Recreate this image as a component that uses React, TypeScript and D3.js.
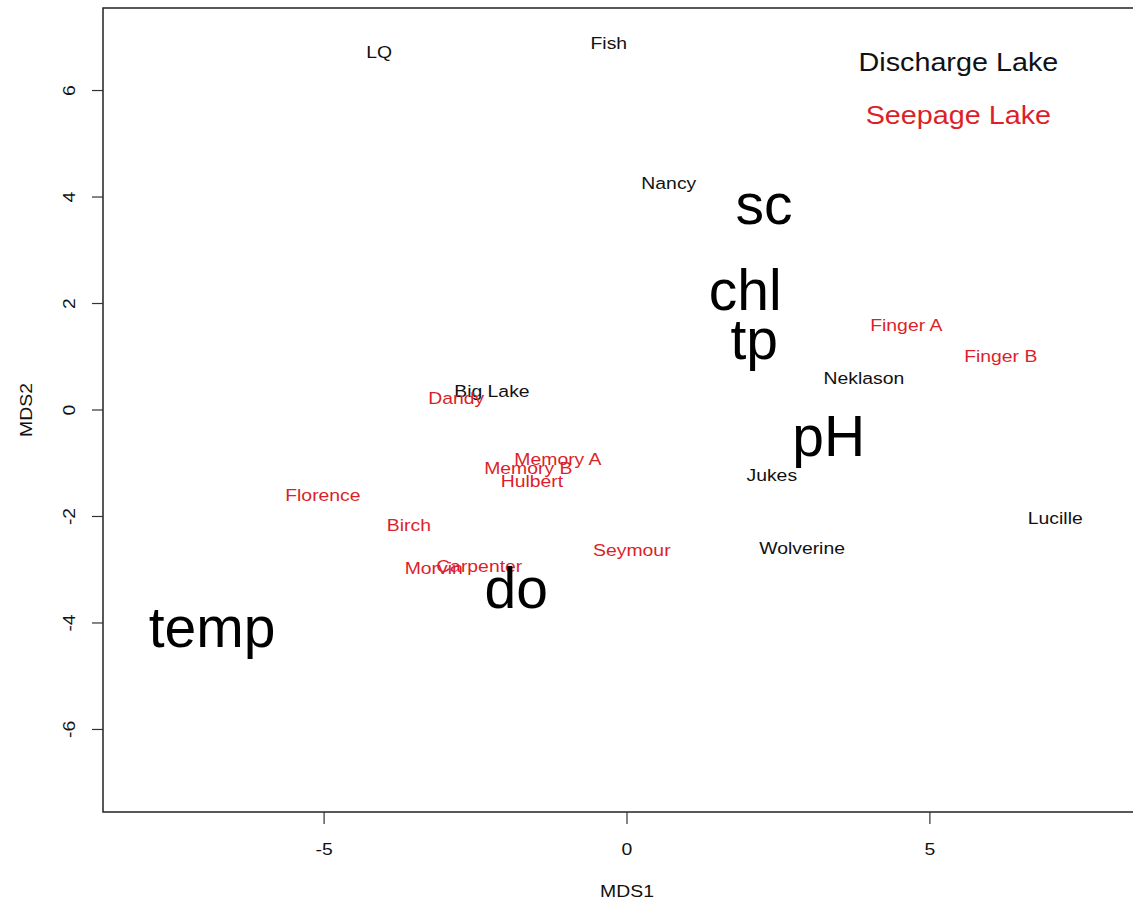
import React from "react";
import * as d3 from "d3";

// Lake site scores on the two MDS axes
const dischargeLakes = ["LQ", "Fish", "Nancy", "Big Lake", "Neklason", "Jukes", "Wolverine", "Lucille"];
const dischargeX = [-4.09, -0.3, 0.69, -2.23, 3.91, 2.39, 2.89, 7.07];
const dischargeY = [6.71, 6.88, 4.26, 0.34, 0.6, -1.22, -2.59, -2.04];

const seepageLakes = ["Finger A", "Finger B", "Dandy", "Memory A", "Memory B", "Hulbert", "Florence", "Birch", "Seymour", "Carpenter", "Morvin"];
const seepageX = [4.61, 6.17, -2.82, -1.14, -1.63, -1.57, -5.02, -3.6, 0.08, -2.44, -3.19];
const seepageY = [1.58, 1.01, 0.21, -0.92, -1.09, -1.35, -1.61, -2.16, -2.63, -2.93, -2.98];

// Environmental variable scores
const variables = ["sc", "chl", "tp", "pH", "do", "temp"];
const variableX = [2.26, 1.95, 2.1, 3.33, -1.83, -6.85];
const variableY = [3.86, 2.25, 1.33, -0.49, -3.34, -4.07];

// Legend entries placed in data space
const legendLabels = ["Discharge Lake", "Seepage Lake"];
const legendX = [5.47, 5.47];
const legendY = [6.53, 5.53];

const xTicks = [-5, 0, 5];
const yTicks = [-6, -4, -2, 0, 2, 4, 6];

const W = 1133;
const H = 904;
const RED = "#dc1f2a";
const FONT = "'Liberation Sans', Arial, Helvetica, sans-serif";
const WIDEN = 1.14;

type LabelProps = {
  x: number;
  y: number;
  size: number;
  fill: string;
  rotate?: number;
  widen?: number;
  children: React.ReactNode;
};

// Centered label with optional rotation and horizontal widening of the glyphs
function Label({ x, y, size, fill, rotate = 0, widen = WIDEN, children }: LabelProps) {
  return (
    <text
      transform={`translate(${x},${y}) rotate(${rotate}) scale(${widen},1)`}
      textAnchor="middle"
      dominantBaseline="central"
      fontSize={size}
      fill={fill}
    >
      {children}
    </text>
  );
}

export default function App() {
  const x = d3.scaleLinear().domain([-8.65, 8.65]).range([103, 1151]);
  const y = d3.scaleLinear().domain([-7.55, 7.55]).range([812, 8]);
  const [x0, x1] = x.range();
  const [y0, y1] = y.range();

  return (
    <svg
      width={W}
      height={H}
      style={{ position: "absolute", left: 0, top: 0, background: "#fff" }}
      fontFamily={FONT}
    >
      <rect x={x0} y={y1} width={x1 - x0} height={y0 - y1} fill="none" stroke="#222" strokeWidth={1.5} />

      {/* x axis */}
      {xTicks.map((t) => (
        <g key={"xt" + t}>
          <line x1={x(t)} x2={x(t)} y1={y0} y2={y0 + 12} stroke="#333" strokeWidth={1.2} />
          <Label x={x(t)} y={849} size={17} fill="#111">
            {t}
          </Label>
        </g>
      ))}
      <Label x={(x0 + x1) / 2} y={891} size={17} fill="#111">
        MDS1
      </Label>

      {/* y axis */}
      {yTicks.map((t) => (
        <g key={"yt" + t}>
          <line x1={x0 - 11} x2={x0} y1={y(t)} y2={y(t)} stroke="#333" strokeWidth={1.2} />
          <Label x={69} y={y(t)} rotate={-90} size={17} fill="#111">
            {t}
          </Label>
        </g>
      ))}
      <Label x={26} y={(y0 + y1) / 2} rotate={-90} size={17} fill="#111">
        MDS2
      </Label>

      {/* discharge lakes */}
      {dischargeLakes.map((name, i) => (
        <Label key={name} x={x(dischargeX[i])} y={y(dischargeY[i])} size={17} fill="#111">
          {name}
        </Label>
      ))}

      {/* seepage lakes */}
      {seepageLakes.map((name, i) => (
        <Label key={name} x={x(seepageX[i])} y={y(seepageY[i])} size={17} fill={RED}>
          {name}
        </Label>
      ))}

      {/* environmental variables */}
      {variables.map((name, i) => (
        <Label key={name} x={x(variableX[i])} y={y(variableY[i])} size={57} widen={1} fill="#000">
          {name}
        </Label>
      ))}

      {/* legend */}
      {legendLabels.map((name, i) => (
        <Label key={name} x={x(legendX[i])} y={y(legendY[i])} size={25} widen={1.15} fill={i === 0 ? "#111" : RED}>
          {name}
        </Label>
      ))}
    </svg>
  );
}
